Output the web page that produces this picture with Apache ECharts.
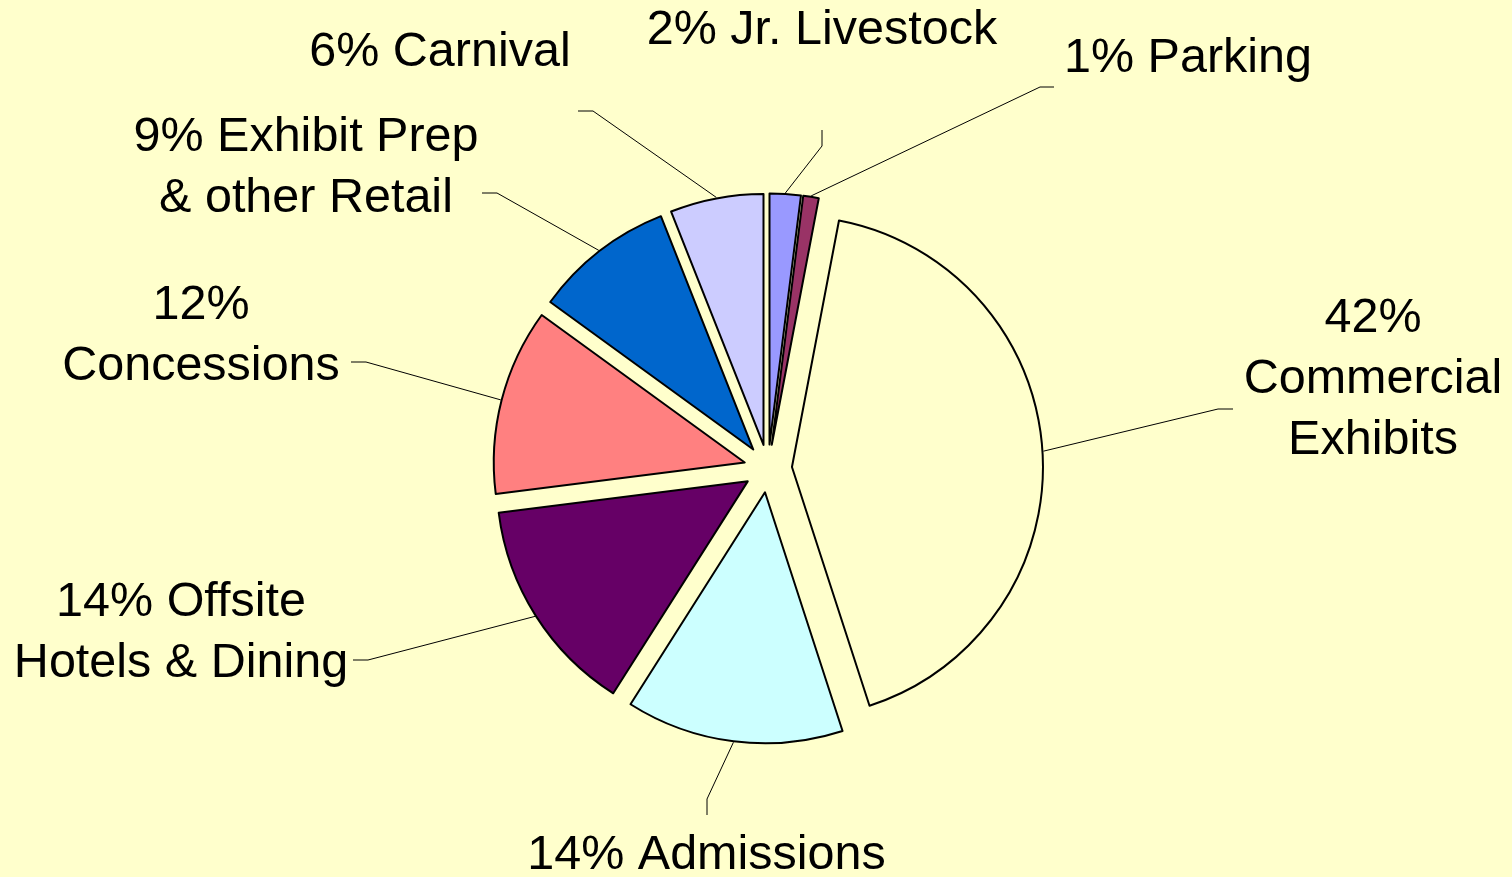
<!DOCTYPE html>
<html>
<head>
<meta charset="utf-8">
<script src="https://cdn.jsdelivr.net/npm/echarts@6/dist/echarts.min.js"></script>
<style>
  html, body { margin: 0; padding: 0; background: #FFFFCC; }
  #chart { width: 1512px; height: 877px; }
</style>
</head>
<body>
<div id="chart"></div>
<script>
// ---- Data ----
const categories = ['Jr. Livestock', 'Parking', 'Commercial Exhibits', 'Admissions',
  'Offsite Hotels & Dining', 'Concessions', 'Exhibit Prep & other Retail', 'Carnival'];
const values = [2, 1, 42, 14, 14, 12, 9, 6];
const labelTexts = ['2% Jr. Livestock', '1% Parking', '42%\nCommercial\nExhibits', '14% Admissions',
  '14% Offsite\nHotels & Dining', '12%\nConcessions', '9% Exhibit Prep\n& other Retail', '6% Carnival'];
const colors = ['#9999FF', '#993366', '#FFFFCC', '#CCFFFF', '#660066', '#FF8080', '#0066CC', '#CCCCFF'];

// ---- Layout (not data) ----
const CX = 768, CY = 468.5, R = 251, OFFSET = 24;
// label centre [x, y]
const labelPos = [[822, 31], [1188, 59], [1373, 380], [706.5, 856], [181, 633], [201, 336], [306, 168], [440, 53]];
// leader elbow [x, y] and end [x, y]
const leaderPts = [
  [[822, 146], [822, 130]],
  [[1040, 87], [1054, 87]],
  [[1218, 409], [1233, 409]],
  [[707, 799], [707, 815]],
  [[368, 660], [353, 660]],
  [[366, 362], [351, 362]],
  [[497, 193], [482, 193]],
  [[593, 111], [578, 111]]
];

const total = values.reduce((a, b) => a + b, 0);
const midAngles = [];
let cum = 0;
values.forEach(v => { midAngles.push((cum + v / 2) / total * Math.PI * 2); cum += v; });

// Each slice is drawn by its own pie series (same data), shifted outward to give the exploded look.
const series = categories.map((name, k) => {
  const a = midAngles[k];
  return {
    type: 'pie',
    center: [CX + OFFSET * Math.sin(a), CY - OFFSET * Math.cos(a)],
    radius: R,
    startAngle: 90,
    clockwise: true,
    selectedMode: false,
    avoidLabelOverlap: false,
    emphasis: { disabled: true },
    label: {
      show: true,
      position: 'outside',
      formatter: p => labelTexts[p.dataIndex],
      fontFamily: 'Liberation Sans, Arial, sans-serif',
      fontSize: 48.5,
      lineHeight: 61,
      color: '#000000',
      align: 'center'
    },
    labelLine: { show: true, lineStyle: { color: '#000000', width: 1 } },
    labelLayout: function (params) {
      const i = params.dataIndex;
      const ang = midAngles[i];
      const rr = R + 1 + OFFSET;
      const sx = CX + rr * Math.sin(ang);
      const sy = CY - rr * Math.cos(ang);
      return {
        x: labelPos[i][0],
        y: labelPos[i][1],
        align: 'center',
        verticalAlign: 'middle',
        labelLinePoints: [[sx, sy], leaderPts[i][0], leaderPts[i][1]]
      };
    },
    data: categories.map((n, i) => i === k ? {
      name: n,
      value: values[i],
      itemStyle: { color: colors[i], borderColor: '#000000', borderWidth: 2 }
    } : {
      name: n,
      value: values[i],
      itemStyle: { color: 'rgba(0,0,0,0)', borderWidth: 0 },
      label: { show: false },
      labelLine: { show: false }
    })
  };
});

const chart = echarts.init(document.getElementById('chart'), null, { renderer: 'canvas' });
chart.setOption({
  backgroundColor: '#FFFFCC',
  animation: false,
  series: series
});
</script>
</body>
</html>
